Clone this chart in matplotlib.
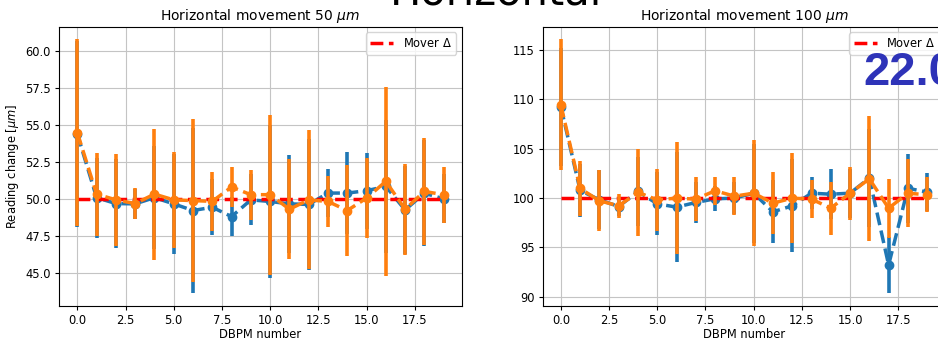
import numpy as np
import matplotlib
matplotlib.use("Agg")
import matplotlib.pyplot as plt

# DBPM index
dbpm = np.arange(20)

# 50 um move: two readouts (mean, std)
blue_50 = [54.4, 50.1, 49.7, 49.68, 50.1, 49.68, 49.23, 49.45, 48.82, 49.95,
           49.84, 49.68, 49.64, 50.41, 50.41, 50.57, 50.86, 49.27, 50.4, 50.02]
blue_50_err = [6.3, 2.7, 3.0, 1.0, 3.5, 3.37, 5.6, 1.9, 1.32, 1.72,
               5.2, 3.3, 4.45, 1.6, 2.77, 2.57, 4.5, 3.0, 3.6, 1.66]
orange_50 = [54.5, 50.34, 49.95, 49.7, 50.34, 49.95, 49.9, 49.85, 50.82, 50.3,
             50.3, 49.32, 49.95, 49.84, 49.23, 50.07, 51.2, 49.32, 50.52, 50.3]
orange_50_err = [6.3, 2.8, 3.1, 1.05, 4.43, 3.25, 5.5, 2.0, 1.36, 1.7,
                 5.4, 3.36, 4.7, 1.7, 3.1, 2.73, 6.4, 3.08, 3.64, 1.9]

# 100 um move
blue_100 = [109.25, 100.78, 99.83, 99.15, 100.68, 99.42, 99.09, 99.56, 99.93, 100.0,
            100.5, 98.61, 99.22, 100.5, 100.4, 100.5, 102.03, 93.22, 101.0, 100.61]
blue_100_err = [6.0, 2.7, 3.0, 1.0, 3.5, 3.2, 5.6, 2.05, 1.28, 1.6,
                5.0, 3.18, 4.7, 1.63, 2.55, 2.5, 5.0, 2.87, 3.5, 1.93]
orange_100 = [109.45, 100.98, 99.73, 99.22, 100.58, 99.83, 100.0, 99.9, 100.75, 100.2,
              100.5, 99.49, 100.0, 99.9, 98.98, 100.5, 101.96, 98.98, 100.5, 100.34]
orange_100_err = [6.64, 2.8, 3.08, 1.2, 4.4, 3.15, 5.7, 2.2, 1.4, 1.9,
                  5.36, 3.15, 4.57, 1.9, 2.7, 2.7, 6.34, 2.98, 3.46, 1.76]

mover_50 = [50] * 20
mover_100 = [100] * 20

# original was rendered at a smaller dpi, so shrink everything a bit
plt.rcParams['font.size'] = 8.3
plt.rcParams['xtick.major.size'] = 2.9
plt.rcParams['ytick.major.size'] = 2.9
plt.rcParams['xtick.major.pad'] = 2.9
plt.rcParams['ytick.major.pad'] = 2.9
plt.rcParams['axes.labelpad'] = 3.3
plt.rcParams['axes.titlepad'] = 5.0
plt.rcParams['grid.color'] = '#c4c4c4'

fig = plt.figure(figsize=(9.38, 3.41), dpi=100)
ax1 = fig.add_axes([0.0629, 0.1026, 0.4296, 0.819])
ax2 = fig.add_axes([0.5784, 0.1026, 0.4296, 0.819])

panels = [
    (ax1, blue_50, blue_50_err, orange_50, orange_50_err, mover_50, "Horizontal movement 50 $\\mu m$"),
    (ax2, blue_100, blue_100_err, orange_100, orange_100_err, mover_100, "Horizontal movement 100 $\\mu m$"),
]

for ax, b, be, o, oe, mv, title in panels:
    ax.errorbar(dbpm, b, yerr=be, fmt='o--', color='C0', lw=2.5, elinewidth=2.6, ms=6, zorder=2)
    ax.plot(dbpm, mv, 'r--', lw=2.5, label="Mover $\\Delta$", zorder=2.5)
    ax.errorbar(dbpm, o, yerr=oe, fmt='o--', color='C1', lw=2.5, elinewidth=2.6, ms=6, zorder=3)
    ax.set_title(title, fontsize=10)
    ax.set_xlabel("DBPM number", labelpad=1.0)
    ax.grid(True)
    ax.legend(loc='upper right')

ax1.set_ylabel("Reading change [$\\mu m$]")

fig.text(0.5293, 0.9868, "Horizontal", fontsize=30, ha='center', va='baseline')
fig.text(0.920, 0.7507, "22.0", fontsize=34, color='#2e33b8', fontweight='bold',
         family='Liberation Sans', ha='left', va='baseline')

fig.savefig("out.png", dpi=100)
